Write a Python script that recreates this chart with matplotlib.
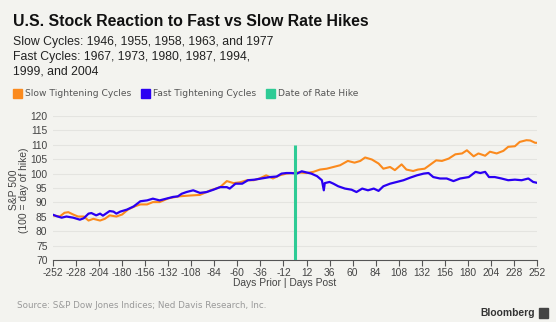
import matplotlib.pyplot as plt
from matplotlib.patches import Rectangle

plt.rcParams['axes.unicode_minus'] = False

# slow tightening cycles (1946, 1955, 1958, 1963, 1977)
slow_days = [-252, -245, -240, -236, -231, -226, -220, -215, -210, -203, -198, -193,
             -186, -180, -174, -167, -161, -154, -148, -141, -132, -121, -109, -99,
             -88, -78, -71, -64, -57, -50, -43, -37, -30, -23, -16, -9, -2, 3, 12,
             19, 26, 33, 40, 47, 55, 62, 68, 73, 80, 87, 92, 99, 104, 111, 116, 123,
             128, 135, 140, 147, 153, 160, 167, 174, 179, 186, 191, 198, 203, 210,
             217, 222, 229, 234, 241, 245, 250, 252]
slow_vals = [85.5, 85.1, 86.4, 86.6, 85.8, 85.1, 85.1, 83.7, 84.3, 83.7, 84.3, 85.5,
             85.1, 85.8, 87.5, 88.6, 89.3, 89.3, 90.1, 90.1, 91.4, 92.1, 92.4, 92.6,
             94.2, 95.3, 97.4, 96.7, 97.0, 97.7, 97.7, 98.3, 99.4, 98.3, 99.4, 100.0,
             100.2, 100.4, 100.2, 100.6, 101.4, 101.7, 102.3, 102.9, 104.4, 103.8,
             104.4, 105.6, 104.9, 103.5, 101.7, 102.3, 101.2, 103.2, 101.4, 100.9,
             101.4, 101.7, 102.9, 104.6, 104.4, 105.2, 106.7, 107.0, 108.1, 106.0,
             107.0, 106.2, 107.6, 107.0, 107.9, 109.3, 109.5, 111.0, 111.6, 111.5,
             110.7, 110.7]

# fast tightening cycles (1967, 1973, 1980, 1987, 1994, 1999, 2004)
fast_days = [-252, -248, -243, -238, -231, -224, -220, -215, -212, -207, -203, -200,
             -193, -189, -186, -182, -175, -168, -161, -154, -148, -141, -134, -127,
             -122, -118, -113, -106, -99, -92, -85, -78, -71, -68, -62, -55, -49,
             -42, -35, -26, -19, -14, -9, -4, 2, 7, 12, 17, 23, 28, 30, 31, 36, 40,
             45, 52, 59, 64, 70, 76, 82, 87, 92, 99, 106, 113, 120, 127, 134, 139,
             144, 151, 158, 165, 172, 181, 188, 193, 198, 202, 208, 215, 222, 229,
             236, 243, 248, 252]
fast_vals = [85.7, 85.2, 84.7, 85.1, 84.7, 84.0, 84.5, 86.1, 86.3, 85.5, 86.1, 85.4,
             87.0, 86.8, 86.1, 86.8, 87.5, 88.6, 90.4, 90.7, 91.3, 90.7, 91.3, 91.9,
             92.1, 93.0, 93.6, 94.2, 93.3, 93.6, 94.4, 95.3, 95.3, 94.8, 96.5, 96.5,
             97.7, 97.9, 98.3, 98.8, 99.0, 100.0, 100.2, 100.2, 100.0, 100.8, 100.4,
             100.0, 99.1, 97.7, 94.2, 96.7, 97.1, 96.5, 95.6, 94.8, 94.4, 93.6, 94.8,
             94.2, 94.8, 94.0, 95.6, 96.5, 97.1, 97.7, 98.6, 99.4, 100.0, 100.2, 98.8,
             98.3, 98.3, 97.4, 98.3, 98.8, 100.6, 100.2, 100.6, 98.8, 98.8, 98.3, 97.7,
             97.9, 97.7, 98.3, 97.1, 96.8]

hike_day = 0
hike_top = 110

x_ticks = list(range(-252, 0, 24)) + list(range(12, 253, 24))
y_ticks = list(range(70, 121, 5))

W, H = 556, 322
bg = '#f3f3ef'
orange = '#fb8a1d'
blue = '#2a00f2'
green = '#2ecb95'

def px(x, y):
    return x / W, 1 - y / H

fig = plt.figure(figsize=(W / 100, H / 100), dpi=100, facecolor=bg)
ax = fig.add_axes([53 / W, (H - 260) / H, 484 / W, 144 / H], facecolor=bg)

ax.plot(slow_days, slow_vals, color=orange, lw=1.5, zorder=3)
ax.plot(fast_days, fast_vals, color=blue, lw=1.6, zorder=4)
ax.vlines(hike_day, 70, hike_top, color=green, lw=2.2, zorder=5)

ax.set_xlim(-252, 252)
ax.set_ylim(70, 120)
ax.set_xticks(x_ticks)
ax.set_yticks(y_ticks)
ax.grid(axis='y', color='#e4e4e0', lw=0.8)
ax.set_axisbelow(True)
for s in ['top', 'right', 'left']:
    ax.spines[s].set_visible(False)
ax.spines['bottom'].set_color('#555555')
ax.spines['bottom'].set_linewidth(0.8)
ax.tick_params(axis='x', length=4, color='#555555', labelsize=7.4, labelcolor='#444444', pad=2)
ax.tick_params(axis='y', length=0, labelsize=7.4, labelcolor='#444444', pad=4)
for lab in ax.get_xticklabels() + ax.get_yticklabels():
    lab.set_family('Liberation Sans')

fig.text(*px(19, 190), 'S&P 500\n(100 = day of hike)', fontsize=7.4, color='#444444',
         family='Liberation Sans', rotation=90, ha='center', va='center',
         multialignment='center', linespacing=1.05)

fig.text(*px(285, 283), 'Days Prior | Days Post', fontsize=7.4, color='#444444',
         family='Liberation Sans', ha='center', va='center')

fig.text(*px(13, 22), 'U.S. Stock Reaction to Fast vs Slow Rate Hikes', fontsize=11.4,
         weight='bold', family='Liberation Sans', color='#111111', va='center')
sub_kw = dict(fontsize=8.85, color='#222222', va='center', family='Liberation Sans')
fig.text(*px(13, 42), 'Slow Cycles: 1946, 1955, 1958, 1963, and 1977', **sub_kw)
fig.text(*px(13, 57), 'Fast Cycles: 1967, 1973, 1980, 1987, 1994,', **sub_kw)
fig.text(*px(13, 72), '1999, and 2004', **sub_kw)

legend_items = [('Slow Tightening Cycles', orange, 13),
                ('Fast Tightening Cycles', blue, 141),
                ('Date of Rate Hike', green, 266)]
for label, col, x0 in legend_items:
    fig.patches.append(Rectangle(px(x0, 98), 9 / W, 9 / H, color=col,
                                 transform=fig.transFigure, figure=fig))
    fig.text(*px(x0 + 12, 93.5), label, fontsize=6.6, color='#555555', va='center')

fig.text(*px(17, 306), 'Source: S&P Dow Jones Indices; Ned Davis Research, Inc.',
         fontsize=6.3, color='#999999', va='center')
fig.text(*px(535, 313), 'Bloomberg', fontsize=7.4, weight='bold', color='#333333',
         family='Liberation Sans', ha='right', va='center')
fig.patches.append(Rectangle(px(539, 318), 9 / W, 10 / H, color='#444444',
                             transform=fig.transFigure, figure=fig))

fig.savefig('out.png', dpi=100, facecolor=bg)
